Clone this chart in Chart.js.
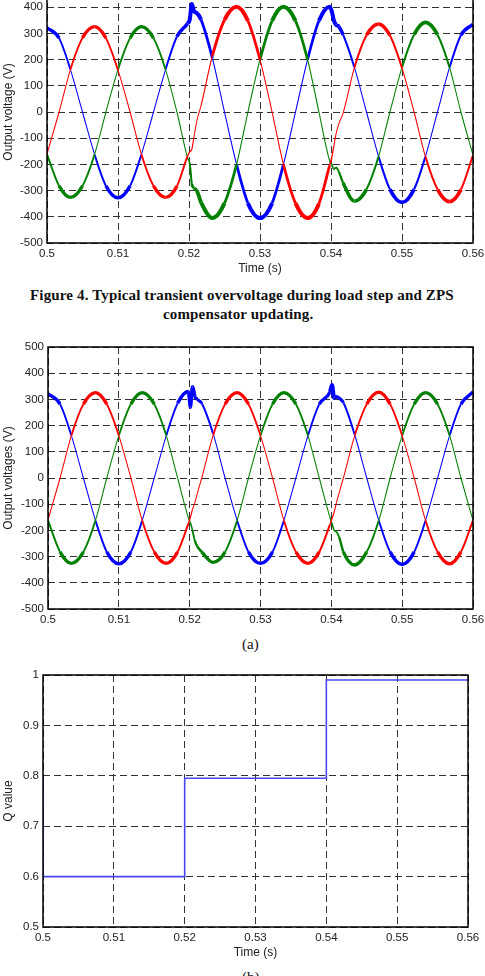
<!DOCTYPE html>
<html>
<head>
<meta charset="utf-8">
<script src="https://cdn.jsdelivr.net/npm/chart.js@4.4.1/dist/chart.umd.min.js"></script>
<style>
  html, body { margin: 0; padding: 0; background: #fff; }
  body { width: 485px; height: 976px; position: relative; overflow: hidden; }
  .plot { position: absolute; left: 0; width: 485px; }
  .cap { position: absolute; font-family: 'Liberation Serif', 'Times New Roman', serif; font-size: 15px;
         line-height: 16px; color: #111; white-space: nowrap; }
  .cap.bold { font-weight: bold; letter-spacing: 0.15px; }
</style>
</head>
<body>
<div class="plot" style="top:-27px;height:303px"><canvas id="fig4"></canvas></div>
<div class="cap bold" style="left:30px;top:287px">Figure 4. Typical transient overvoltage during load step and ZPS</div>
<div class="cap bold" style="left:163px;top:306px">compensator updating.</div>
<div class="plot" style="top:339px;height:295px"><canvas id="fig5a"></canvas></div>
<div class="cap" style="left:242px;top:636px">(a)</div>
<div class="plot" style="top:667px;height:293px"><canvas id="fig5b"></canvas></div>
<div class="cap" style="left:242px;top:969px">(b)</div>

<script>
'use strict';

// ── Data (time in s, voltages in V) ────────────────────────────────────────
const time = [
  0.5000, 0.5017, 0.5033, 0.5050, 0.5067, 0.5083, 0.5100, 0.5117, 0.5133, 0.5150, 0.5167, 0.5183,
  0.5198, 0.5201, 0.5204, 0.5207, 0.5211,
  0.5217, 0.5233, 0.5250, 0.5267, 0.5283, 0.5300, 0.5317, 0.5333, 0.5350, 0.5367, 0.5383,
  0.5398, 0.5401, 0.5404, 0.5407, 0.5411,
  0.5417, 0.5433, 0.5450, 0.5467, 0.5483, 0.5500, 0.5517, 0.5533, 0.5550, 0.5567, 0.5583, 0.5600
];

// Figure 4: load step with overvoltage
const fig4Red = [
  -160, 0, 162, 283, 326, 282, 160, 0, -162, -282, -326, -283,
  -168, -152, -142, -95, -35,
  25, 215, 352, 402, 348, 200, 0, -200, -348, -405, -350,
  -205, -175, -130, -85, -45,
  -5, 170, 293, 336, 292, 168, 0, -170, -295, -342, -296, -165
];
const fig4Green = [
  -162, -282, -326, -282, -162, 0, 162, 282, 326, 282, 162, 0,
  -175, -195, -275, -290, -300,
  -345, -405, -348, -200, 0, 200, 348, 402, 348, 200, 0,
  -185, -200, -218, -212, -228,
  -270, -340, -295, -170, 0, 170, 295, 342, 295, 170, 0, -165
];
const fig4Blue = [
  322, 282, 162, 0, -162, -282, -328, -282, -162, 0, 162, 288,
  338, 352, 412, 385, 378,
  352, 205, 0, -200, -348, -405, -348, -200, 0, 200, 348,
  402, 385, 350, 333, 326,
  295, 170, 0, -170, -295, -345, -295, -170, 0, 170, 293, 335
];

// Figure 5(a): compensated output voltages
const fig5Red = [
  -160, 0, 162, 282, 326, 282, 162, 0, -162, -282, -326, -282,
  -175, -150, -120, -97, -57,
  0, 162, 282, 326, 282, 162, 0, -162, -282, -326, -282,
  -178, -155, -130, -97, -57,
  0, 162, 282, 328, 282, 162, 0, -162, -282, -328, -282, -162
];
const fig5Green = [
  -162, -282, -326, -282, -162, 0, 162, 282, 326, 282, 162, 0,
  -150, -170, -200, -237, -262,
  -282, -322, -282, -162, 0, 162, 282, 326, 282, 162, 0,
  -150, -175, -200, -205, -225,
  -282, -332, -282, -162, 0, 162, 282, 326, 282, 162, 0, -162
];
const fig5Blue = [
  322, 282, 162, 0, -162, -282, -328, -282, -162, 0, 162, 285,
  330, 270, 348, 312, 300,
  285, 170, 0, -162, -282, -326, -282, -162, 0, 162, 282,
  328, 355, 305, 310, 305,
  288, 165, 0, -162, -282, -330, -282, -162, 0, 162, 282, 328
];

// Figure 5(b): Q value steps
const qTime  = [0.5, 0.5, 0.52, 0.52, 0.54, 0.54, 0.56];
const qValue = [0.8, 0.6, 0.6, 0.795, 0.795, 0.99, 0.99];

// ── Helpers ────────────────────────────────────────────────────────────────
const FONT  = "'Liberation Sans', Arial, Helvetica, sans-serif";
const INK   = '#222';
const RED   = '#ff0000', GREEN = '#008000', BLUE = '#0000ff';

function pts(xs, ys) { return xs.map((x, i) => ({ x, y: ys[i] })); }

// scope traces look thicker near the crests (switching ripple)
function rippleWidth(c) {
  const m = (Math.abs(c.p0.parsed.y) + Math.abs(c.p1.parsed.y)) / 2;
  const r = Math.min(1, m / 330);
  return 1 + 3 * r * r * r;
}

function phase(data, color) {
  return {
    data, borderColor: color, borderWidth: 1, pointRadius: 0,
    cubicInterpolationMode: 'monotone',
    segment: { borderWidth: rippleWidth }
  };
}

const framePlugin = {
  id: 'frame',
  afterDraw(chart) {
    const { ctx, chartArea: a } = chart;
    ctx.save();
    ctx.strokeStyle = '#000';
    ctx.lineWidth = 1.5;
    ctx.strokeRect(a.left, a.top, a.right - a.left, a.bottom - a.top);
    ctx.restore();
  }
};

function scales(o) {
  const tickFont  = { family: FONT, size: 11.5 };
  const titleFont = { family: FONT, size: 12 };
  const grid   = { color: '#333', lineWidth: 1, drawTicks: false, borderDash: [7, 4] };
  const border = { display: false, dash: [7, 4] };
  return {
    x: {
      type: 'linear', min: 0.5, max: 0.56, grid, border,
      afterFit: s => { s.height = o.xHeight; s.paddingLeft = 0; s.paddingRight = 0; },
      ticks: { stepSize: 0.01, padding: 4, color: INK, font: tickFont, maxRotation: 0, autoSkip: false,
               callback: v => String(+v.toFixed(2)) },
      title: { display: !!o.xTitle, text: o.xTitle || '', color: INK, font: titleFont, padding: 0 }
    },
    y: {
      min: o.yMin, max: o.yMax, grid, border,
      afterFit: s => { s.width = o.yWidth; s.paddingTop = 0; s.paddingBottom = 0; },
      ticks: { stepSize: o.yStep, padding: 4, color: INK, font: tickFont,
               callback: v => String(+v.toFixed(1)) },
      title: { display: true, text: o.yTitle, color: INK, font: titleFont, padding: { top: 1, bottom: 0 } }
    }
  };
}

function makeChart(id, datasets, o) {
  return new Chart(document.getElementById(id), {
    type: 'line',
    data: { datasets },
    options: {
      responsive: true, maintainAspectRatio: false, animation: false,
      layout: { padding: { top: 8, right: o.right, bottom: 0, left: 0 } },
      plugins: { legend: { display: false }, tooltip: { enabled: false } },
      scales: scales(o)
    },
    plugins: [framePlugin]
  });
}

// ── Charts ─────────────────────────────────────────────────────────────────
makeChart('fig4', [
  phase(pts(time, fig4Red), RED),
  phase(pts(time, fig4Green), GREEN),
  phase(pts(time, fig4Blue), BLUE)
], { yMin: -500, yMax: 500, yStep: 100, yWidth: 47, xHeight: 33, right: 12,
     yTitle: 'Output voltage (V)', xTitle: 'Time (s)' });

makeChart('fig5a', [
  phase(pts(time, fig5Red), RED),
  phase(pts(time, fig5Green), GREEN),
  phase(pts(time, fig5Blue), BLUE)
], { yMin: -500, yMax: 500, yStep: 100, yWidth: 48, xHeight: 25, right: 12,
     yTitle: 'Output voltages (V)' });

makeChart('fig5b', [{
  data: pts(qTime, qValue), borderColor: '#4848f0', borderWidth: 1.6,
  pointRadius: 0, tension: 0
}], { yMin: 0.5, yMax: 1, yStep: 0.1, yWidth: 43, xHeight: 33, right: 17,
      yTitle: 'Q value', xTitle: 'Time (s)' });
</script>
</body>
</html>
